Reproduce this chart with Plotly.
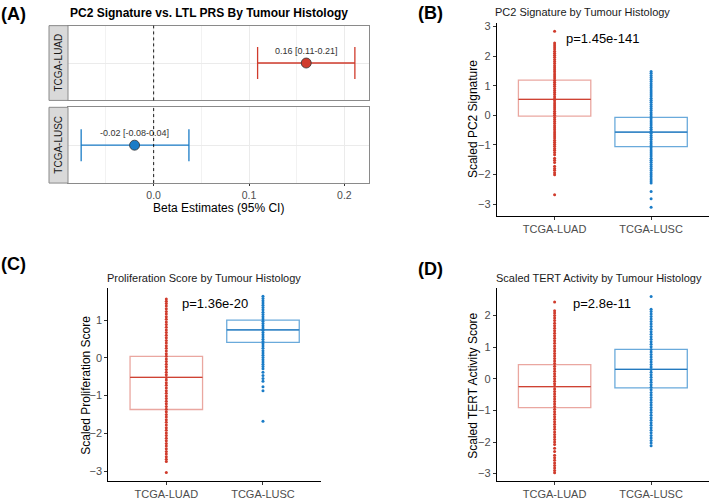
import plotly.graph_objects as go

# ---------------- data ----------------
forest_groups = ["TCGA-LUAD", "TCGA-LUSC"]
forest_beta = [0.160, -0.020]
forest_lo = [0.109, -0.076]
forest_hi = [0.211, 0.037]
forest_labels = ["0.16 [0.11-0.21]", "-0.02 [-0.08-0.04]"]

groups = ["TCGA-LUAD", "TCGA-LUSC"]

# Panel B: PC2 signature
B_q1 = [-0.03, -1.06]
B_med = [0.54, -0.57]
B_q3 = [1.19, -0.07]
B_luad = [2.84, 2.45, 2.38, 2.31, 2.24, 2.17, 2.10, 2.03, 1.96, 1.89, 1.82, 1.75, 1.68,
          1.61, 1.54, 1.47, 1.40, 1.33, 1.26, 1.19, 1.12, 1.05, 0.98, 0.91, 0.84, 0.77,
          0.70, 0.63, 0.56, 0.49, 0.42, 0.35, 0.28, 0.21, 0.14, 0.07, 0.00, -0.07, -0.14,
          -0.21, -0.28, -0.35, -0.42, -0.49, -0.56, -0.63, -0.70, -0.77, -0.84, -0.91,
          -0.98, -1.05, -1.12, -1.18, -1.26, -1.33, -1.45, -1.52, -1.60, -1.72, -1.80,
          -1.86, -1.94, -2.01, -2.69]
B_lusc = [1.48, 1.42, 1.35, 1.28, 1.21, 1.14, 1.07, 1.00, 0.93, 0.86, 0.79, 0.72, 0.65,
          0.58, 0.51, 0.44, 0.37, 0.30, 0.23, 0.16, 0.09, 0.02, -0.05, -0.12, -0.19,
          -0.26, -0.33, -0.40, -0.47, -0.54, -0.61, -0.68, -0.75, -0.82, -0.89, -0.96,
          -1.03, -1.10, -1.17, -1.24, -1.31, -1.38, -1.45, -1.52, -1.59, -1.66, -1.73,
          -1.80, -1.87, -1.94, -2.01, -2.08, -2.15, -2.22, -2.29, -2.58, -2.82, -3.11]

# Panel C: proliferation score
C_q1 = [-1.37, 0.41]
C_med = [-0.52, 0.74]
C_q3 = [0.04, 1.00]
C_luad = [1.56, 1.50, 1.44, 1.37, 1.30, 1.23, 1.16, 1.09, 1.02, 0.95, 0.88, 0.81, 0.74,
          0.67, 0.60, 0.53, 0.46, 0.39, 0.32, 0.25, 0.18, 0.11, 0.04, -0.03, -0.10,
          -0.17, -0.24, -0.31, -0.38, -0.45, -0.52, -0.59, -0.66, -0.73, -0.80, -0.87,
          -0.94, -1.01, -1.08, -1.15, -1.22, -1.29, -1.36, -1.43, -1.50, -1.57, -1.64,
          -1.71, -1.78, -1.85, -1.92, -1.99, -2.06, -2.13, -2.20, -2.27, -2.34, -2.41,
          -2.48, -2.55, -2.62, -2.69, -2.75, -3.04]
C_lusc = [1.63, 1.57, 1.51, 1.45, 1.39, 1.33, 1.27, 1.21, 1.15, 1.09, 1.03, 0.97, 0.91,
          0.85, 0.79, 0.73, 0.67, 0.61, 0.55, 0.49, 0.43, 0.37, 0.31, 0.25, 0.19, 0.13,
          0.07, 0.01, -0.05, -0.11, -0.17, -0.23, -0.29, -0.38, -0.47, -0.55, -0.62,
          -0.77, -0.87, -1.68]

# Panel D: TERT activity
D_q1 = [-0.91, -0.29]
D_med = [-0.25, 0.30]
D_q3 = [0.45, 0.93]
D_luad = [2.43, 2.15, 2.08, 2.00, 1.92, 1.84, 1.76, 1.68, 1.60, 1.52, 1.44, 1.36, 1.28,
          1.20, 1.12, 1.04, 0.96, 0.88, 0.80, 0.72, 0.64, 0.56, 0.48, 0.40, 0.32, 0.24,
          0.16, 0.08, 0.00, -0.08, -0.16, -0.24, -0.32, -0.40, -0.48, -0.56, -0.64,
          -0.72, -0.80, -0.88, -0.96, -1.04, -1.12, -1.20, -1.28, -1.36, -1.44, -1.52,
          -1.60, -1.68, -1.76, -1.84, -1.92, -2.00, -2.08, -2.20, -2.30, -2.42, -2.50,
          -2.58, -2.66, -2.74, -2.82, -2.90, -2.97]
D_lusc = [2.60, 2.20, 2.13, 2.05, 1.97, 1.89, 1.81, 1.73, 1.65, 1.57, 1.49, 1.41, 1.33,
          1.25, 1.17, 1.09, 1.01, 0.93, 0.85, 0.77, 0.69, 0.61, 0.53, 0.45, 0.37, 0.29,
          0.21, 0.13, 0.05, -0.03, -0.11, -0.19, -0.27, -0.35, -0.43, -0.51, -0.59,
          -0.67, -0.75, -0.83, -0.91, -0.99, -1.07, -1.15, -1.23, -1.31, -1.39, -1.47,
          -1.55, -1.63, -1.71, -1.79, -1.87, -1.95, -2.03, -2.12]

p_values = ["p=1.45e-141", "p=1.36e-20", "p=2.8e-11"]

# ---------------- style ----------------
W, H = 710, 500
FONT = "Liberation Sans, Arial, sans-serif"
RED = "#D03B2C"
BLUE = "#1A7CC7"
RED_LIGHT = "rgba(208,59,44,0.45)"
BLUE_LIGHT = "rgba(26,124,199,0.65)"
RED_MED = "#CF4233"
BLUE_MED = "#2379BE"
TICK_GREY = "#4D4D4D"
BORDER = "#8A8A8A"


def px(x):
    return x / W


def py(y):
    return 1 - y / H


fig = go.Figure()

# ---------------- Panel A: forest facets ----------------
forest_colors = [RED, BLUE]
for i, g in enumerate(forest_groups):
    ax = "" if i == 0 else "2"
    fig.add_trace(go.Scatter(
        x=[forest_beta[i]], y=[0], xaxis="x" + ax, yaxis="y" + ax,
        mode="markers+text", text=[forest_labels[i]], textposition="top center",
        textfont=dict(size=9, color="#333333", family=FONT),
        marker=dict(size=10, color=forest_colors[i], line=dict(color="#333333", width=0.8)),
        error_x=dict(type="data", symmetric=False,
                     array=[forest_hi[i] - forest_beta[i]],
                     arrayminus=[forest_beta[i] - forest_lo[i]],
                     color=forest_colors[i], thickness=1.3, width=16),
        showlegend=False, cliponaxis=False))

# ---------------- Box panels ----------------
def add_box_panel(ax, q1, med, q3, pts_luad, pts_lusc):
    light = [RED_LIGHT, BLUE_LIGHT]
    dark = [RED_MED, BLUE_MED]
    ptc = [RED, BLUE]
    pts = [pts_luad, pts_lusc]
    for i, g in enumerate(groups):
        fig.add_trace(go.Box(
            x=[g], q1=[q1[i]], median=[med[i]], q3=[q3[i]],
            lowerfence=[q1[i]], upperfence=[q3[i]], width=0.75,
            fillcolor="rgba(0,0,0,0)", line=dict(color=light[i], width=1.3),
            boxpoints=False, hoverinfo="skip", showlegend=False,
            xaxis="x" + ax, yaxis="y" + ax))
        fig.add_trace(go.Box(
            x=[g], q1=[med[i]], median=[med[i]], q3=[med[i]],
            lowerfence=[med[i]], upperfence=[med[i]], width=0.75,
            fillcolor="rgba(0,0,0,0)", line=dict(color=dark[i], width=1.3),
            boxpoints=False, hoverinfo="skip", showlegend=False,
            xaxis="x" + ax, yaxis="y" + ax))
        fig.add_trace(go.Scatter(
            x=[g] * len(pts[i]), y=pts[i], mode="markers",
            marker=dict(size=3, color=ptc[i], line=dict(width=0)),
            showlegend=False, xaxis="x" + ax, yaxis="y" + ax))


add_box_panel("3", B_q1, B_med, B_q3, B_luad, B_lusc)
add_box_panel("4", C_q1, C_med, C_q3, C_luad, C_lusc)
add_box_panel("5", D_q1, D_med, D_q3, D_luad, D_lusc)

# ---------------- Layout ----------------
forest_x = dict(range=[-0.0898, 0.2258], dtick=0.1, tick0=0, tickformat=".1f",
                showgrid=True, gridcolor="#EBEBEB", gridwidth=1,
                minor=dict(dtick=0.05, tick0=0, showgrid=True, gridcolor="#F2F2F2", gridwidth=1),
                zeroline=False, showline=True, mirror=True, linecolor=BORDER, linewidth=1,
                domain=[px(68), px(369)])
forest_y = dict(range=[-1, 1], tickvals=[0], showticklabels=False, ticks="",
                showgrid=True, gridcolor="#EBEBEB", zeroline=False,
                showline=True, mirror=True, linecolor=BORDER, linewidth=1)

layout = dict(
    width=W, height=H, autosize=False,
    margin=dict(l=0, r=0, t=0, b=0),
    paper_bgcolor="white", plot_bgcolor="white",
    font=dict(family=FONT, color="#000000"),
    boxmode="overlay",
    xaxis=dict(**forest_x, anchor="y", matches="x2", showticklabels=False, ticks=""),
    yaxis=dict(**forest_y, domain=[py(99), py(23)], anchor="x"),
    xaxis2=dict(**forest_x, anchor="y2", ticks="outside", ticklen=2, tickcolor="#333333",
                tickfont=dict(size=10.5, color=TICK_GREY, family=FONT)),
    yaxis2=dict(**forest_y, domain=[py(183), py(106)], anchor="x2"),
)

box_axes = {
    "3": dict(xd=[px(496.7), px(709)], yd=[py(216), py(20.7)], yr=[-3.39, 3.11], dt=1),
    "4": dict(xd=[px(108.3), px(321)], yd=[py(486), py(290)], yr=[-3.27, 1.84], dt=1),
    "5": dict(xd=[px(496.7), px(709)], yd=[py(486), py(290)], yr=[-3.24, 2.86], dt=1),
}
for k, v in box_axes.items():
    layout["xaxis" + k] = dict(
        domain=v["xd"], anchor="y" + k, type="category", categoryorder="array",
        categoryarray=groups, range=[-0.6, 1.6], showgrid=False, zeroline=False,
        showline=True, linecolor="#000000", linewidth=1, ticks="outside", ticklen=3,
        tickcolor="#333333", tickfont=dict(size=11, color=TICK_GREY, family=FONT))
    layout["yaxis" + k] = dict(
        domain=v["yd"], anchor="x" + k, range=v["yr"], dtick=v["dt"], tick0=0,
        showgrid=False, zeroline=False, showline=True, linecolor="#000000", linewidth=1,
        ticks="outside", ticklen=3, tickcolor="#333333",
        tickfont=dict(size=11, color=TICK_GREY, family=FONT))

fig.update_layout(**layout)

# dashed zero lines in forest facets
for ax in ["", "2"]:
    fig.add_shape(type="line", x0=0, x1=0, y0=0, y1=1, xref="x" + ax, yref="y" + ax + " domain",
                  line=dict(color="#000000", width=0.9, dash="3px,3px"), layer="above")


def text(x, y, s, size, bold=False, angle=0, color="#000000"):
    fig.add_annotation(x=px(x), y=py(y), xref="paper", yref="paper",
                       text=("<b>%s</b>" % s) if bold else s, showarrow=False,
                       textangle=angle, xanchor="center", yanchor="middle",
                       font=dict(size=size, color=color, family=FONT))


# strips
strip_y = [(23, 99), (106, 183)]
for (y0, y1), g in zip(strip_y, forest_groups):
    fig.add_shape(type="rect", xref="paper", yref="paper", x0=px(49), x1=px(68),
                  y0=py(y1), y1=py(y0), fillcolor="#D9D9D9", line=dict(color=BORDER, width=1))
    text(58.5, (y0 + y1) / 2, g, 10, angle=-90, color="#1A1A1A")

# panel letters
text(13, 11, "(A)", 18, bold=True)
text(430, 10, "(B)", 18, bold=True)
text(13, 265, "(C)", 18, bold=True)
text(430, 270, "(D)", 18, bold=True)

# titles
text(209, 10, "PC2 Signature vs. LTL PRS By Tumour Histology", 12, bold=True)
text(582.5, 9, "PC2 Signature by Tumour Histology", 11, color="#1A1A1A")
text(204, 279, "Proliferation Score by Tumour Histology", 11, color="#1A1A1A")
text(598.5, 279, "Scaled TERT Activity by Tumour Histology", 11, color="#1A1A1A")

# axis titles
text(218.5, 208, "Beta Estimates (95% CI)", 12)
text(473, 118, "Scaled PC2 Signature", 12, angle=-90)
text(86, 389, "Scaled Proliferation Score", 12, angle=-90)
text(473, 389, "Scaled TERT Activity Score", 12, angle=-90)

# p-values
text(602, 36, p_values[0], 13)
text(215, 305, p_values[1], 13)
text(602, 305, p_values[2], 13)

fig.write_html("out.html", config={"displayModeBar": False},
               post_script="document.body.style.margin='0';")
